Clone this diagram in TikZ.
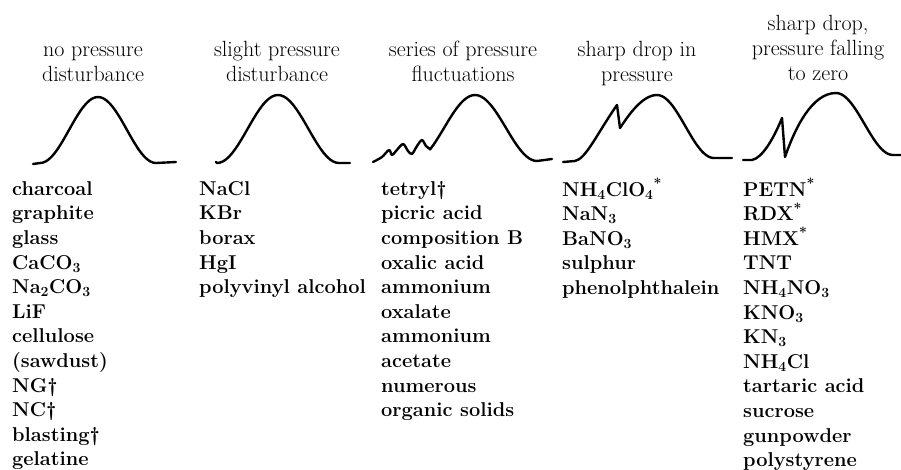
\documentclass[tikz,border=0pt]{standalone}
\newcommand\myheadfont{\fontsize{22}{25}\selectfont\setlength{\lineskiplimit}{-30pt}}
\newcommand\mylistfont{\fontsize{20}{24.6}\selectfont\bfseries\setlength{\lineskiplimit}{-30pt}}
\begin{document}
\begin{tikzpicture}[x=1pt,y=-1pt,
  curve/.style={line width=2.4pt, line cap=round, line join=round},
  head/.style={font=\myheadfont, align=center, anchor=north, inner sep=0pt},
  list/.style={font=\mylistfont, align=left, anchor=north west, inner sep=0pt}]
\useasboundingbox (0,0) rectangle (901,469);

% headers
\node[head] (h1) at (93,38.5)  {\strut no pressure\\disturbance};
\node[head] (h2) at (277,38.5) {\strut slight pressure\\disturbance};
\node[head] (h3) at (463,38.5) {\strut series of pressure\\fluctuations};
\node[head] (h4) at (637,38.5) {\strut sharp drop in\\pressure};
\node[head] (h5) at (818,12.5) {\strut sharp drop,\\pressure falling\\to zero};

% pressure curves
\draw[curve] (33,164) -- (40,163)
  -- plot[domain=-58:58,samples=41] ({98+\x},{163-66*(0.5+0.5*cos(180*\x/58))})
  -- (176,162);
\draw[curve] (216,162)
  -- plot[domain=-61:61,samples=41] ({278+\x},{163-68*(0.5+0.5*cos(180*\x/61))})
  -- (350,163);
\draw[curve] plot[smooth,tension=0.5] coordinates {(373,162) (382,157) (389,150) (392,155) (396,151) (403,144) (408,151) (412,154) (417,146) (422,140) (426,146) (430,149)}
  -- plot[domain=-45:62,samples=41] ({475+\x},{161-66*(0.5+0.5*cos(180*\x/62))})
  -- (552,159);
\draw[curve] (563,162) -- (575,161) .. controls (586,159) and (598,132) .. (617,105)
  -- (620,128) .. controls (628,116) and (642,95) .. (657,95)
  -- plot[domain=0:57,samples=31] ({657+\x},{158-63*(0.5+0.5*cos(180*\x/57))})
  -- (732,158);
\draw[curve] (743,160) -- (752,160) .. controls (762,158) and (773,140) .. (782,118)
  -- (785,157) .. controls (795,128) and (812,93) .. (836,93)
  -- plot[domain=0:57,samples=31] ({836+\x},{155-62*(0.5+0.5*cos(180*\x/57))})
  -- (901,155);

% material lists
\node[list] (l1) at (12,177.8) {\strut charcoal\\graphite\\glass\\CaCO\textsubscript{3}\\Na\textsubscript{2}CO\textsubscript{3}\\LiF\\cellulose\\(sawdust)\\NG\textdagger\\NC\textdagger\\blasting\textdagger\\gelatine};
\node[list] (l2) at (199,177.8) {\strut NaCl\\KBr\\borax\\HgI\\polyvinyl alcohol};
\node[list] (l3) at (381,177.8) {\strut tetryl\textdagger\\picric acid\\composition B\\oxalic acid\\ammonium\\oxalate\\ammonium\\acetate\\numerous\\organic solids};
\node[list] (l4) at (562,177.8) {\strut NH\textsubscript{4}ClO\textsubscript{4}\textsuperscript{*}\\NaN\textsubscript{3}\\BaNO\textsubscript{3}\\sulphur\\phenolphthalein};
\node[list] (l5) at (743,177.8) {\strut PETN\textsuperscript{*}\\RDX\textsuperscript{*}\\HMX\textsuperscript{*}\\TNT\\NH\textsubscript{4}NO\textsubscript{3}\\KNO\textsubscript{3}\\KN\textsubscript{3}\\NH\textsubscript{4}Cl\\tartaric acid\\sucrose\\gunpowder\\polystyrene};
\end{tikzpicture}
\end{document}
